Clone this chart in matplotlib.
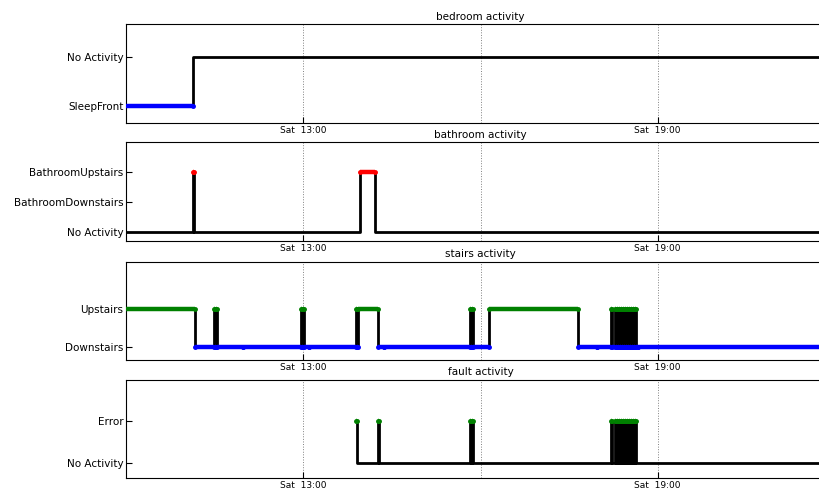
import datetime as dt
import matplotlib
matplotlib.use("Agg")
import matplotlib.pyplot as plt
import matplotlib.dates as mdates

DAY = dt.date(2012, 3, 10)
START = "10:00"
END = "22:00"

# bedroom sensor
bedroom_labels = ["SleepFront", "No Activity"]
bedroom_times = ["09:30", "11:08"]
bedroom_states = ["SleepFront", "No Activity"]

# bathroom sensor
bathroom_labels = ["No Activity", "BathroomDownstairs", "BathroomUpstairs"]
bathroom_times = ["09:30", "11:08", "11:09", "13:58", "14:13"]
bathroom_states = ["No Activity", "BathroomUpstairs", "No Activity",
                   "BathroomUpstairs", "No Activity"]

# stairs sensor
stairs_labels = ["Downstairs", "Upstairs"]
stairs_times = ["09:30", "11:10", "11:29", "11:30", "11:31", "11:32", "11:59",
                "12:58", "12:59", "13:00", "13:01", "13:06",
                "13:53", "13:54", "13:55", "14:16", "14:22",
                "15:49", "15:50", "15:51", "15:52", "16:09", "17:39", "17:58",
                "18:13", "18:14",
                "18:17", "18:18", "18:19", "18:20", "18:21", "18:22", "18:23",
                "18:24", "18:25", "18:26", "18:27", "18:28", "18:29", "18:30",
                "18:31", "18:32", "18:33", "18:34", "18:35", "18:36", "18:37",
                "18:38", "18:40"]
stairs_states = ["Upstairs", "Downstairs", "Upstairs", "Downstairs", "Upstairs",
                 "Downstairs", "Downstairs",
                 "Upstairs", "Downstairs", "Upstairs", "Downstairs", "Downstairs",
                 "Upstairs", "Downstairs", "Upstairs", "Downstairs", "Downstairs",
                 "Upstairs", "Downstairs", "Upstairs", "Downstairs", "Upstairs",
                 "Downstairs", "Downstairs",
                 "Upstairs", "Downstairs",
                 "Upstairs", "Downstairs", "Upstairs", "Downstairs", "Upstairs",
                 "Downstairs", "Upstairs", "Downstairs", "Upstairs", "Downstairs",
                 "Upstairs", "Downstairs", "Upstairs", "Downstairs", "Upstairs",
                 "Downstairs", "Upstairs", "Downstairs", "Upstairs", "Downstairs",
                 "Upstairs", "Downstairs", "Downstairs"]

# fault sensor
fault_labels = ["No Activity", "Error"]
fault_times = ["13:53", "13:54", "14:16", "14:17",
               "15:49", "15:50", "15:51", "15:52",
               "18:13", "18:14",
               "18:17", "18:18", "18:19", "18:20", "18:21", "18:22", "18:23",
               "18:24", "18:25", "18:26", "18:27", "18:28", "18:29", "18:30",
               "18:31", "18:32", "18:33", "18:34", "18:35", "18:36", "18:37",
               "18:38"]
fault_states = ["Error", "No Activity", "Error", "No Activity",
                "Error", "No Activity", "Error", "No Activity",
                "Error", "No Activity"] + ["Error", "No Activity"] * 11

state_colors = {
    "SleepFront": "blue",
    "BathroomUpstairs": "red",
    "BathroomDownstairs": "orange",
    "Upstairs": "green",
    "Downstairs": "blue",
    "Error": "green",
}


def to_dt(hhmm):
    h, m = map(int, hhmm.split(":"))
    return dt.datetime.combine(DAY, dt.time(h, m))


def draw_panel(ax, title, labels, times, states, ylim):
    t = [to_dt(s) for s in times] + [to_dt(END)]
    y = [labels.index(s) for s in states]
    ax.step(t, y + [y[-1]], where="post", color="black", lw=2, zorder=2)
    for i, s in enumerate(states):
        c = state_colors.get(s)
        if c is None:
            continue
        ax.plot([t[i], t[i + 1]], [y[i], y[i]], color=c, lw=3.2,
                zorder=3, solid_capstyle="butt")
        ax.plot([t[i], t[i + 1]], [y[i], y[i]], ls="none", marker=".",
                ms=5, color=c, zorder=4)
    ax.set_yticks(range(len(labels)))
    ax.set_yticklabels(labels)
    ax.set_ylim(*ylim)
    ax.set_xlim(to_dt(START), to_dt(END))
    ax.set_title(title, fontsize=7.5, pad=3)

    ax.xaxis.set_major_locator(mdates.HourLocator(byhour=[1, 7, 13, 19]))
    ax.xaxis.set_major_formatter(mdates.DateFormatter("%a  %H:%M"))
    ax.xaxis.set_minor_locator(mdates.HourLocator(byhour=range(1, 24, 3)))
    ax.grid(True, axis="x", which="both", linestyle=":", color="gray", lw=0.7)
    ax.tick_params(axis="both", which="both", direction="in", length=4)
    ax.tick_params(axis="y", labelsize=7.5, pad=2)
    ax.tick_params(axis="x", labelsize=6.5, pad=2)
    ax.tick_params(axis="x", which="minor", length=0)


fig = plt.figure(figsize=(8.2, 4.88), dpi=100)
left, width = 0.154, 0.864
panels = [
    (0.748, "bedroom activity", bedroom_labels, bedroom_times, bedroom_states, (-0.35, 1.66)),
    (0.506, "bathroom activity", bathroom_labels, bathroom_times, bathroom_states, (-0.31, 3.0)),
    (0.262, "stairs activity", stairs_labels, stairs_times, stairs_states, (-0.33, 2.24)),
    (0.020, "fault activity", fault_labels, fault_times, fault_states, (-0.37, 1.97)),
]
for bottom, title, labels, times, states, ylim in panels:
    ax = fig.add_axes([left, bottom, width, 0.202])
    draw_panel(ax, title, labels, times, states, ylim)

fig.savefig("out.png", dpi=100)
